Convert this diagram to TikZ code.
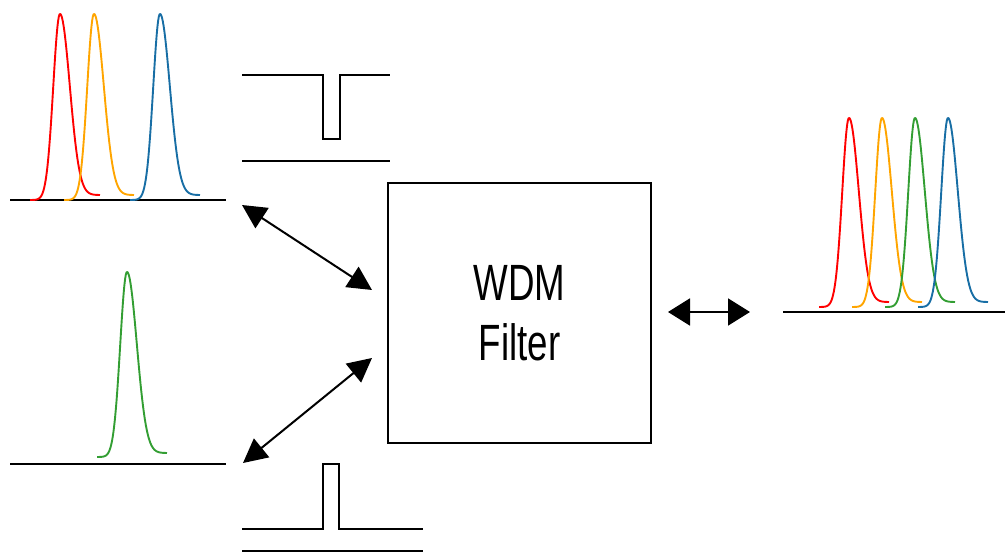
\documentclass[tikz,border=0pt]{standalone}
\usepackage{fontspec}
\setmainfont{Liberation Sans}
\usetikzlibrary{arrows.meta}
\definecolor{pkred}{RGB}{255,0,0}
\definecolor{pkorange}{RGB}{255,165,0}
\definecolor{pkgreen}{RGB}{51,158,51}
\definecolor{pkblue}{RGB}{24,110,165}
\tikzset{
  axisline/.style={line width=2.2pt, black},
  filterline/.style={line width=2pt, black},
  peakline/.style={line width=1.9pt, line join=round},
  dblarrow/.style={line width=2pt, {Triangle[length=24pt,width=24pt]}-{Triangle[length=24pt,width=24pt]}},
  hdblarrow/.style={line width=2pt, {Triangle[length=22pt,width=27pt]}-{Triangle[length=22pt,width=27pt]}},
  filterbox/.style={draw, line width=1.6pt, minimum width=263pt, minimum height=260pt, inner sep=0pt, align=center, font=\fontsize{51}{60}\selectfont}
}
% \pk{center x}{base y}{height}{tail}{colour}
\newcommand{\pk}[5]{%
  \draw[peakline, #5] plot[domain=-30:40, samples=120, variable=\t]
    ({#1+\t}, {#2 - (#3*exp(-\t*\t/(2*(\t<0 ? 46 : 96))) + #4*(\t>0 ? 1-exp(-\t*\t/300) : 0))});
}
\begin{document}
\begin{tikzpicture}[x=1pt, y=-1pt]
\useasboundingbox (0,0) rectangle (1005,553);
% top-left spectrum
\coordinate (tlA) at (10,200); \coordinate (tlB) at (226,200);
\draw[axisline] (tlA) -- (tlB);
\pk{60}{200}{186}{5}{pkred}
\pk{94}{200}{186}{5}{pkorange}
\pk{160}{200}{186}{5}{pkblue}
% bottom-left spectrum
\coordinate (blA) at (10,464); \coordinate (blB) at (226,464);
\draw[axisline] (blA) -- (blB);
\pk{127}{457}{185}{4}{pkgreen}
% right spectrum
\coordinate (rA) at (783,312); \coordinate (rB) at (1005,312);
\draw[axisline] (rA) -- (rB);
\pk{849}{307}{189}{5}{pkred}
\pk{882}{307}{189}{5}{pkorange}
\pk{915}{307}{189}{5}{pkgreen}
\pk{948}{307}{189}{5}{pkblue}
% notch filter (top)
\draw[filterline] (242,75) -- (323,75) -- (323,139) -- (340,139) -- (340,75) -- (390,75);
\draw[filterline] (242,161) -- (390,161);
% band-pass filter (bottom)
\draw[filterline] (242,529) -- (323,529) -- (323,464) -- (339,464) -- (339,529) -- (423,529);
\draw[filterline] (242,551) -- (423,551);
% WDM filter box
\node[filterbox] (filter) at (519.5,313) {\scalebox{0.72}[1]{WDM}\\\scalebox{0.72}[1]{Filter}};
% arrows
\coordinate (a1) at (242,205); \coordinate (a2) at (372,290);
\coordinate (b1) at (243,463); \coordinate (b2) at (372,358);
\coordinate (c1) at (668,312); \coordinate (c2) at (750,312);
\draw[dblarrow] (a1) -- (a2);
\draw[dblarrow] (b1) -- (b2);
\draw[hdblarrow] (c1) -- (c2);
\end{tikzpicture}
\end{document}
